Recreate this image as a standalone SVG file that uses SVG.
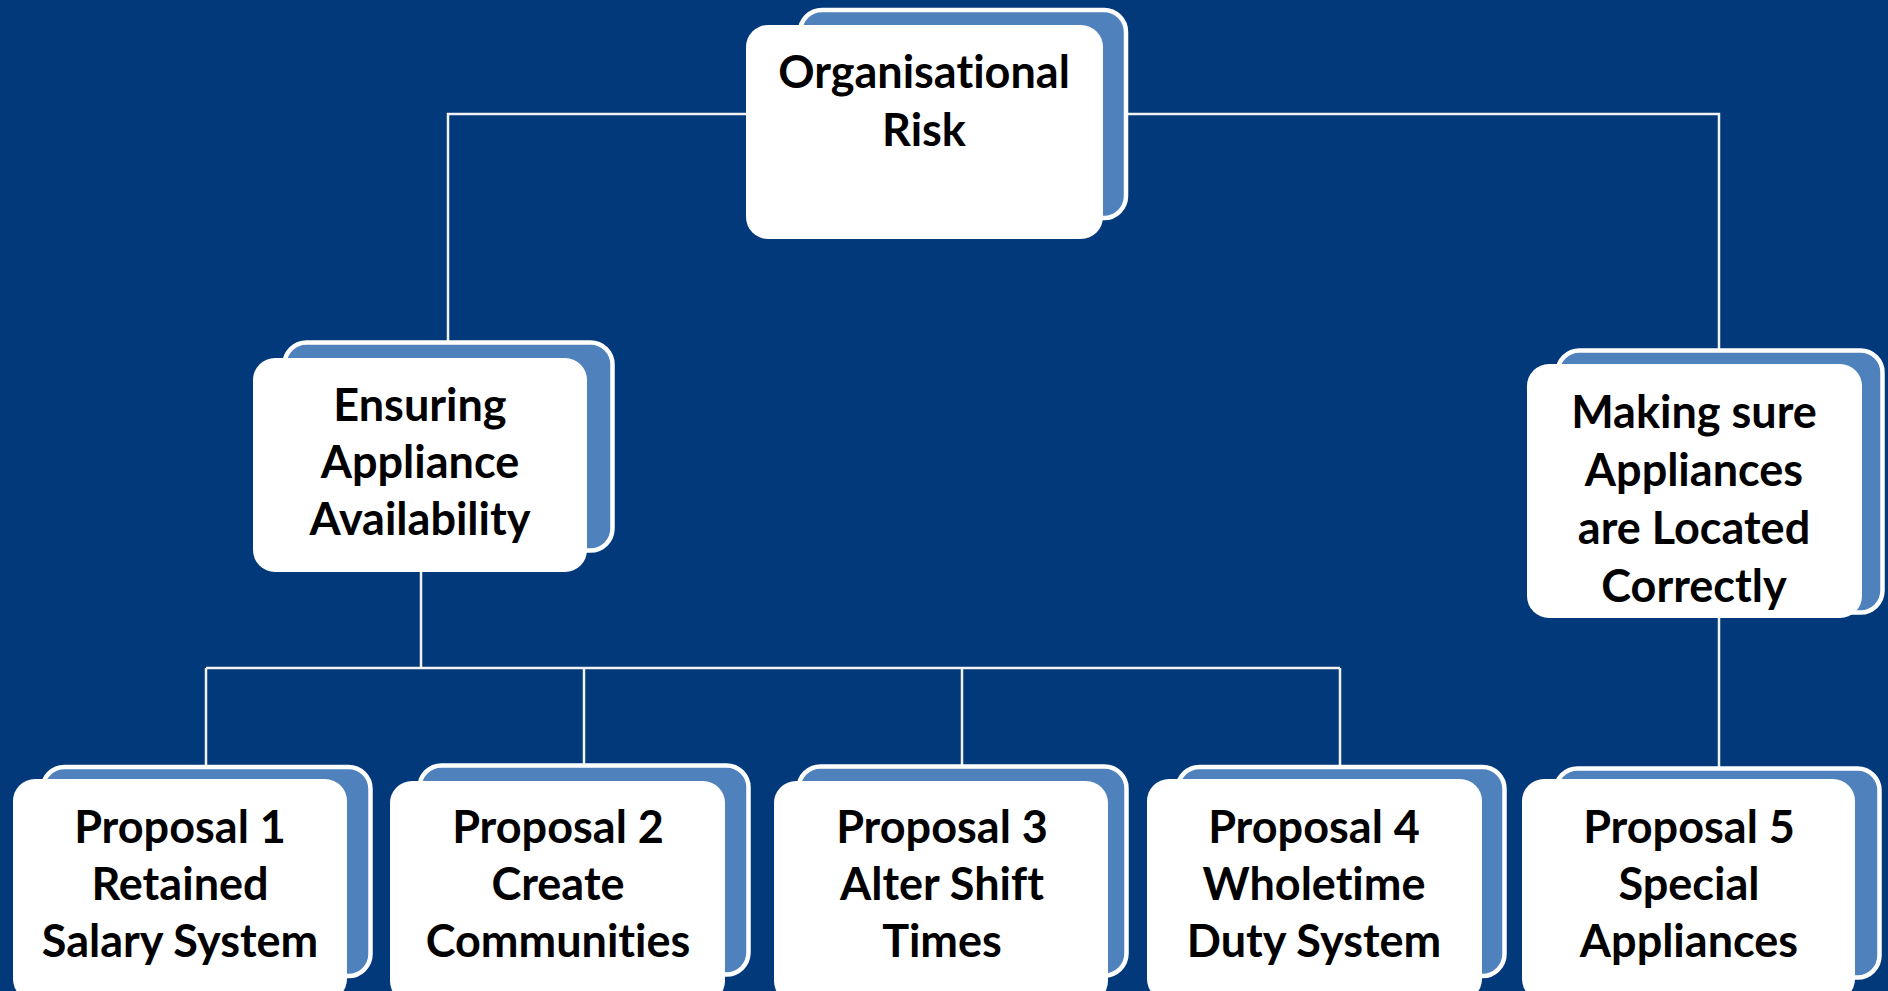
<svg xmlns="http://www.w3.org/2000/svg" width="1888" height="991" viewBox="0 0 1888 991">
<style>
.back{fill:#4F81BD;stroke:#FFFFFF;stroke-width:4.5}
.front{fill:#FFFFFF}
.conn{stroke:#F2F2F2;stroke-width:2.5;fill:none}
.t{font-family:Lato,"Liberation Sans",sans-serif;font-weight:700;font-size:45px;fill:#000000;text-anchor:middle;font-variant-ligatures:none}
</style>
<rect x="0" y="0" width="1888" height="991" fill="#02397A"/>
<g id="connectors">
<polyline class="conn" points="746,114 448,114 448,341"/>
<polyline class="conn" points="1103,114 1719,114 1719,349"/>
<line class="conn" x1="421" y1="572" x2="421" y2="668"/>
<line class="conn" x1="206" y1="668" x2="1340" y2="668"/>
<line class="conn" x1="206" y1="668" x2="206" y2="766"/>
<line class="conn" x1="584" y1="668" x2="584" y2="764"/>
<line class="conn" x1="962" y1="668" x2="962" y2="765"/>
<line class="conn" x1="1340" y1="668" x2="1340" y2="766"/>
<line class="conn" x1="1719" y1="617" x2="1719" y2="768"/>
</g>
<g id="node-org-risk">
<rect class="back" x="800" y="10" width="326" height="208" rx="22"/>
<rect class="front" x="746" y="25" width="357" height="214" rx="22"/>
<text class="t" x="924" y="88">Organisational</text>
<text class="t" x="924" y="146">Risk</text>
</g>
<g id="node-availability">
<rect class="back" x="284.5" y="342.5" width="328" height="208" rx="22"/>
<rect class="front" x="253" y="358" width="334" height="214" rx="22"/>
<text class="t" x="420" y="421">Ensuring</text>
<text class="t" x="420" y="478">Appliance</text>
<text class="t" x="420" y="535">Availability</text>
</g>
<g id="node-located">
<rect class="back" x="1557.5" y="350.5" width="325" height="262" rx="22"/>
<rect class="front" x="1527" y="364" width="335" height="254" rx="22"/>
<text class="t" x="1694" y="428">Making sure</text>
<text class="t" x="1694" y="486">Appliances</text>
<text class="t" x="1694" y="544">are Located</text>
<text class="t" x="1694" y="602">Correctly</text>
</g>
<g id="node-p1">
<rect class="back" x="42.5" y="767" width="328" height="209" rx="22"/>
<rect class="front" x="13" y="779" width="334" height="222" rx="22"/>
<text class="t" x="180" y="843">Proposal 1</text>
<text class="t" x="180" y="900">Retained</text>
<text class="t" x="180" y="957">Salary System</text>
</g>
<g id="node-p2">
<rect class="back" x="419.5" y="765.5" width="329" height="209" rx="22"/>
<rect class="front" x="390" y="781" width="335" height="222" rx="22"/>
<text class="t" x="558" y="843">Proposal 2</text>
<text class="t" x="558" y="900">Create</text>
<text class="t" x="558" y="957">Communities</text>
</g>
<g id="node-p3">
<rect class="back" x="798.5" y="766.5" width="328" height="209" rx="22"/>
<rect class="front" x="774" y="781" width="334" height="222" rx="22"/>
<text class="t" x="942" y="843">Proposal 3</text>
<text class="t" x="942" y="900">Alter Shift</text>
<text class="t" x="942" y="957">Times</text>
</g>
<g id="node-p4">
<rect class="back" x="1177.5" y="767" width="327" height="209" rx="22"/>
<rect class="front" x="1147" y="779" width="335" height="222" rx="22"/>
<text class="t" x="1314" y="843">Proposal 4</text>
<text class="t" x="1314" y="900">Wholetime</text>
<text class="t" x="1314" y="957">Duty System</text>
</g>
<g id="node-p5">
<rect class="back" x="1555.5" y="768.5" width="324" height="209" rx="22"/>
<rect class="front" x="1522" y="779" width="333" height="222" rx="22"/>
<text class="t" x="1689" y="843">Proposal 5</text>
<text class="t" x="1689" y="900">Special</text>
<text class="t" x="1689" y="957">Appliances</text>
</g>
</svg>
